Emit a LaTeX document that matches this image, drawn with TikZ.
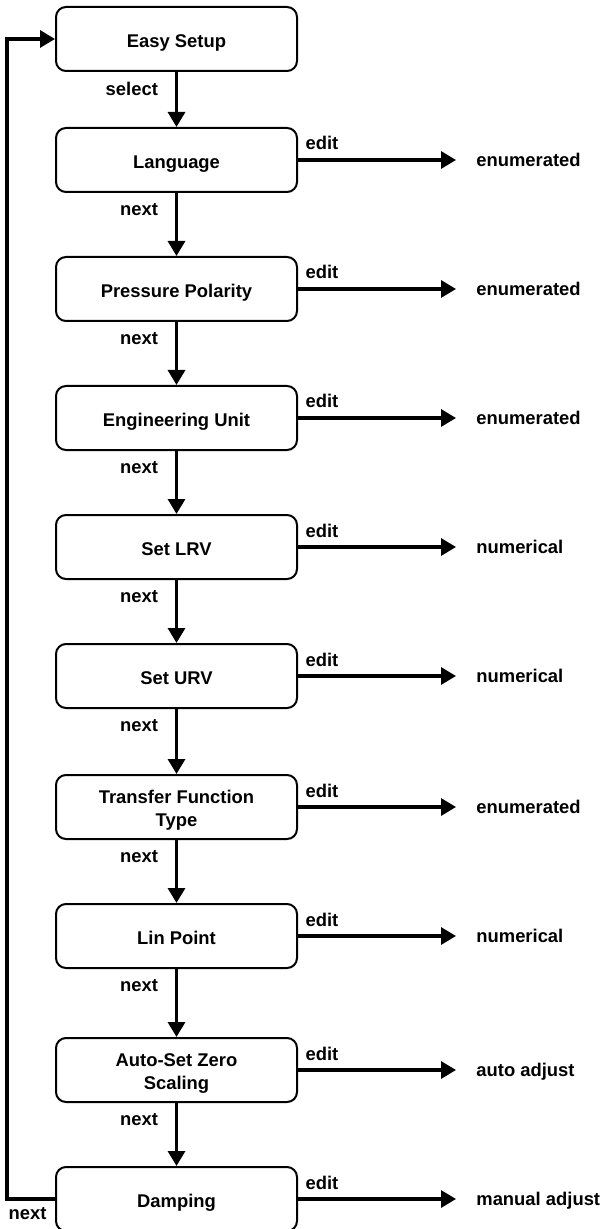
\documentclass[tikz,border=0pt]{standalone}
\usepackage{fontspec}
\setmainfont{Liberation Sans}
\usetikzlibrary{arrows.meta,positioning}

\begin{document}
\begin{tikzpicture}[
    font=\fontsize{9.2}{11.5}\selectfont\bfseries,
    menubox/.style={draw,line width=1pt,rounded corners=5pt,minimum width=120.5pt,minimum height=32pt,align=center,inner sep=2pt,text height=8.5pt,text depth=0pt},
    twoline/.style={text height=20.5pt,text depth=1.5pt},
    flow/.style={line width=1.6pt,-{Triangle[length=7.5pt,width=8.5pt]}},
    lbl/.style={inner sep=0pt},
    nextlbl/.style={lbl,anchor=north east,xshift=-8.5pt,yshift=-4.5pt},
    editlbl/.style={lbl,anchor=base west,xshift=3pt,yshift=5pt},
    vallbl/.style={lbl,text height=1.5ex,text depth=.25ex,right=89pt of #1},
    node distance=31.5pt
  ]
  \useasboundingbox (0,0) rectangle (302.5pt,-614.5pt);

  % menu items
  \node[menubox] (es) at (88.25pt,-19.5pt) {Easy Setup};
  \node[menubox,below=27.5pt of es] (lang) {Language};
  \node[menubox,below=of lang] (pol) {Pressure Polarity};
  \node[menubox,below=of pol] (unit) {Engineering Unit};
  \node[menubox,below=of unit] (lrv) {Set LRV};
  \node[menubox,below=of lrv] (urv) {Set URV};
  \node[menubox,twoline,below=32.5pt of urv] (tft) {Transfer Function\\Type};
  \node[menubox,below=of tft] (lin) {Lin Point};
  \node[menubox,twoline,below=34pt of lin] (asz) {Auto-Set Zero\\Scaling};
  \node[menubox,below=of asz] (damp) {Damping};

  % edit values
  \node[vallbl=lang] (vlang) {enumerated};
  \node[vallbl=pol] (vpol) {enumerated};
  \node[vallbl=unit] (vunit) {enumerated};
  \node[vallbl=lrv] (vlrv) {numerical};
  \node[vallbl=urv] (vurv) {numerical};
  \node[vallbl=tft] (vtft) {enumerated};
  \node[vallbl=lin] (vlin) {numerical};
  \node[vallbl=asz] (vasz) {auto adjust};
  \node[vallbl=damp] (vdamp) {manual adjust};

  % next arrows
  \draw[flow] (es) -- node[nextlbl,pos=0] {select} (lang);
  \draw[flow] (lang) -- node[nextlbl,pos=0] {next} (pol);
  \draw[flow] (pol) -- node[nextlbl,pos=0] {next} (unit);
  \draw[flow] (unit) -- node[nextlbl,pos=0] {next} (lrv);
  \draw[flow] (lrv) -- node[nextlbl,pos=0] {next} (urv);
  \draw[flow] (urv) -- node[nextlbl,pos=0] {next} (tft);
  \draw[flow] (tft) -- node[nextlbl,pos=0] {next} (lin);
  \draw[flow] (lin) -- node[nextlbl,pos=0] {next} (asz);
  \draw[flow] (asz) -- node[nextlbl,pos=0] {next} (damp);

  % edit arrows
  \draw[flow,shorten >=10pt] (lang.east) -- node[editlbl,pos=0] {edit} (vlang.west);
  \draw[flow,shorten >=10pt] (pol.east) -- node[editlbl,pos=0] {edit} (vpol.west);
  \draw[flow,shorten >=10pt] (unit.east) -- node[editlbl,pos=0] {edit} (vunit.west);
  \draw[flow,shorten >=10pt] (lrv.east) -- node[editlbl,pos=0] {edit} (vlrv.west);
  \draw[flow,shorten >=10pt] (urv.east) -- node[editlbl,pos=0] {edit} (vurv.west);
  \draw[flow,shorten >=10pt] (tft.east) -- node[editlbl,pos=0] {edit} (vtft.west);
  \draw[flow,shorten >=10pt] (lin.east) -- node[editlbl,pos=0] {edit} (vlin.west);
  \draw[flow,shorten >=10pt] (asz.east) -- node[editlbl,pos=0] {edit} (vasz.west);
  \draw[flow,shorten >=10pt] (damp.east) -- node[editlbl,pos=0] {edit} (vdamp.west);

  % back to the top
  \draw[flow] (damp.west) -- node[lbl,pos=1,anchor=north west,yshift=-3.5pt] {next} ++(-24pt,0) |- (es.west);
\end{tikzpicture}
\end{document}
